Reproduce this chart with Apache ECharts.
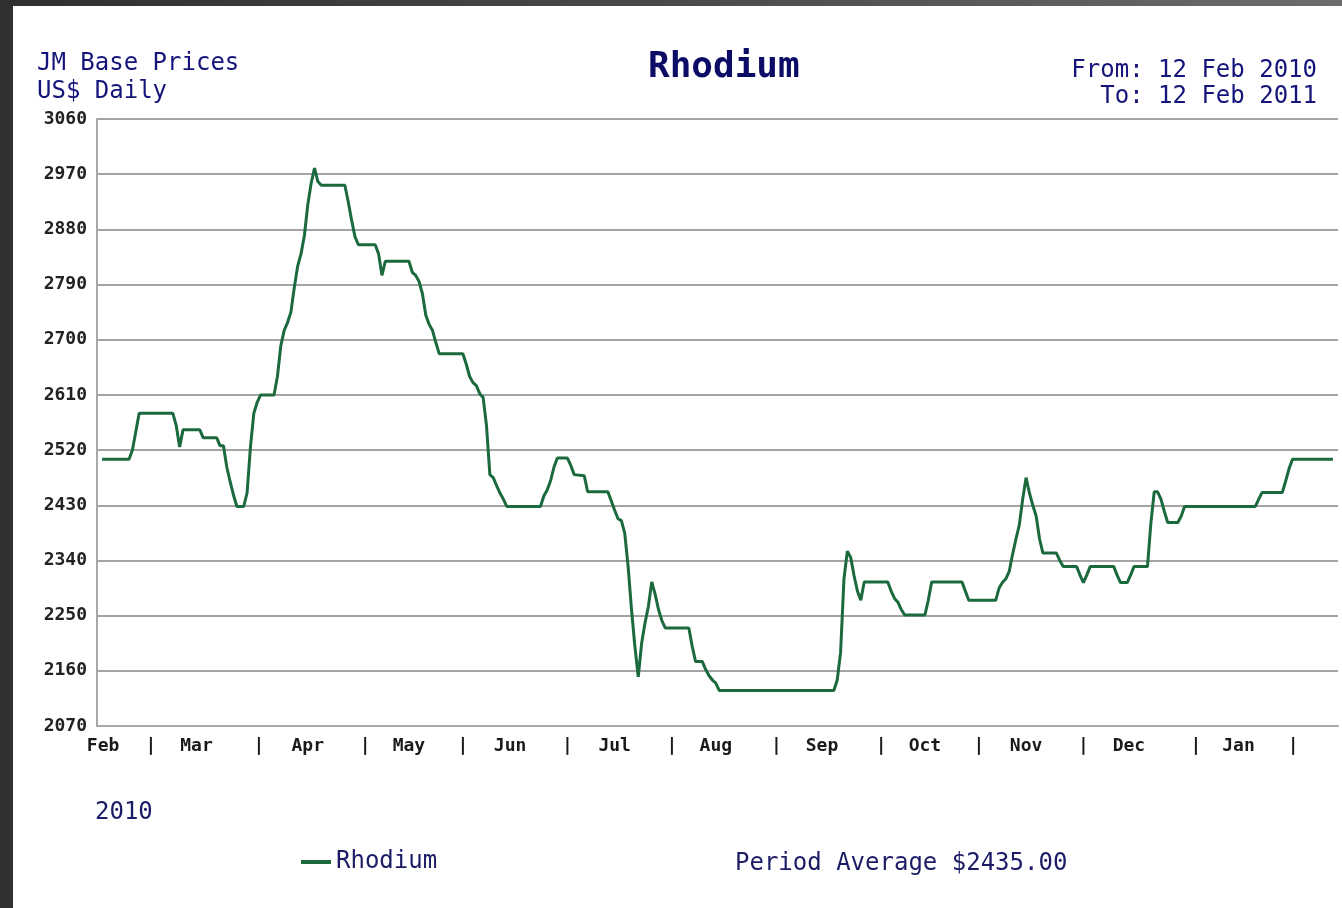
<!DOCTYPE html>
<html>
<head>
<meta charset="utf-8">
<title>Rhodium</title>
<script src="https://cdn.jsdelivr.net/npm/echarts@6/dist/echarts.min.js"></script>
<style>
  html, body { margin: 0; padding: 0; }
  body {
    width: 1342px; height: 908px; position: relative; overflow: hidden;
    background: linear-gradient(90deg, #2f2f2f 0%, #4a4a4a 50%, #6c6c6c 100%);
  }
  #panel { position: absolute; left: 13px; top: 6px; right: 0; bottom: 0; background: #fff; }
  #main { position: absolute; left: 0; top: 0; width: 1342px; height: 908px; }
</style>
</head>
<body>
<div id="panel"></div>
<div id="main"></div>
<script>
// days counted from 12 Feb 2010, price in US$
var priceDays = [
  0, 8, 9, 10, 11, 21, 22, 23, 24, 29, 30, 34, 35, 36, 37, 38, 39, 40, 42,
  43, 44, 45, 46, 47, 51, 52, 53, 54, 55, 56, 57, 58, 59, 60, 61, 62, 63, 64, 65,
  72, 73, 74, 75, 76, 81, 82, 83, 84, 91, 92, 93, 94, 95, 96, 97, 98, 99, 100,
  107, 108, 109, 110, 111, 112, 113, 114, 115, 116, 117, 118, 119, 120, 130,
  131, 132, 133, 134, 135, 138, 139, 140, 143, 144, 150, 151, 152, 153, 154,
  155, 156, 157, 158, 159, 160, 161, 162, 163, 164, 165, 166, 167, 174, 175,
  176, 178, 179, 180, 181, 182, 183, 217, 218, 219, 220, 221, 222, 223, 224,
  225, 226, 233, 234, 235, 236, 237, 238, 244, 245, 246, 255, 256, 257, 265,
  266, 267, 268, 269, 270, 271, 272, 273, 274, 275, 276, 277, 278, 279, 283,
  284, 285, 289, 290, 291, 292, 293, 300, 301, 302, 304, 305, 306, 310, 311,
  312, 313, 314, 315, 316, 319, 320, 321, 342, 343, 344, 350, 351, 352, 353, 365
];
var priceValues = [
  2505, 2505, 2520, 2550, 2580, 2580, 2560, 2525, 2553, 2553, 2540, 2540, 2527, 2527, 2492, 2468, 2446, 2428, 2428,
  2450, 2525, 2580, 2598, 2610, 2610, 2640, 2690, 2715, 2728, 2745, 2785, 2820, 2840, 2870, 2920, 2955, 2980, 2958, 2952,
  2952, 2925, 2895, 2868, 2855, 2855, 2840, 2805, 2828, 2828, 2810, 2805, 2795, 2775, 2740, 2725, 2715, 2695, 2677,
  2677, 2660, 2640, 2630, 2625, 2612, 2606, 2560, 2480, 2475, 2462, 2450, 2440, 2428, 2428,
  2445, 2455, 2470, 2492, 2507, 2507, 2495, 2480, 2478, 2452, 2452, 2437, 2422, 2408, 2405,
  2384, 2330, 2260, 2200, 2150, 2205, 2238, 2265, 2305, 2285, 2260, 2242, 2230, 2230, 2200,
  2175, 2175, 2162, 2152, 2145, 2140, 2128, 2128, 2145, 2190, 2310, 2355, 2345, 2315, 2290,
  2275, 2305, 2305, 2290, 2278, 2272, 2260, 2251, 2251, 2275, 2305, 2305, 2290, 2275, 2275,
  2295, 2304, 2310, 2322, 2350, 2375, 2398, 2440, 2475, 2450, 2430, 2412, 2375, 2352, 2352,
  2340, 2330, 2330, 2316, 2304, 2316, 2330, 2330, 2316, 2304, 2304, 2316, 2330, 2330, 2400,
  2452, 2452, 2440, 2420, 2402, 2402, 2412, 2428, 2428, 2440, 2451, 2451, 2470, 2490, 2505, 2505
];

// x-axis text: month names and the '|' separators, placed by day
var monthNames = ['Feb', 'Mar', 'Apr', 'May', 'Jun', 'Jul', 'Aug', 'Sep', 'Oct', 'Nov', 'Dec', 'Jan'];
var monthLabelDays = [0.3, 28, 61, 91, 121, 152, 182, 213.5, 244, 274, 304.5, 337];
var separatorDays = [14.5, 46.5, 78, 107, 138, 169, 200, 231, 260, 291, 324.4, 353.2];

var yMin = 2070, yMax = 3060, yStep = 90;

var mono = "'DejaVu Sans Mono', monospace";
var navy = '#14147a';
var green = '#1b6a3e';

var labelText = {};
monthLabelDays.forEach(function (d, i) { labelText[d] = monthNames[i]; });
separatorDays.forEach(function (d) { labelText[d] = '|'; });
var labelDays = monthLabelDays.concat(separatorDays).sort(function (a, b) { return a - b; });

var seriesData = priceDays.map(function (d, i) { return [d, priceValues[i]]; });

var chart = echarts.init(document.getElementById('main'), null, { renderer: 'canvas' });

var option = {
  animation: false,
  backgroundColor: 'transparent',
  grid: { left: 97, top: 119, right: 4, bottom: 182, containLabel: false, outerBoundsMode: 'none' },
  legend: {
    data: ['Rhodium'],
    left: 301,
    top: 850,
    padding: 0,
    icon: 'rect',
    itemWidth: 30,
    itemHeight: 4,
    textStyle: { fontFamily: mono, fontSize: 24, color: '#1c1c66', padding: [6, 0, 0, 0] }
  },
  xAxis: {
    type: 'value',
    min: -1.5,
    max: 366.5,
    splitLine: { show: false },
    axisTick: { show: false },
    axisLine: { show: true, onZero: false, lineStyle: { color: '#a8a8a8', width: 2 } },
    axisLabel: {
      customValues: labelDays,
      margin: 11,
      fontFamily: mono,
      fontSize: 18,
      fontWeight: 'bold',
      color: '#1a1a1a',
      formatter: function (v) { return labelText[v] || ''; }
    }
  },
  yAxis: {
    type: 'value',
    min: yMin,
    max: yMax,
    interval: yStep,
    axisLine: { show: true, onZero: false, lineStyle: { color: '#a8a8a8', width: 2 } },
    axisTick: { show: false },
    splitLine: { show: true, lineStyle: { color: '#a4a4a4', width: 2 } },
    axisLabel: {
      margin: 10,
      fontFamily: mono,
      fontSize: 18,
      fontWeight: 'bold',
      color: '#222',
      formatter: function (v) { return String(v); }
    }
  },
  graphic: [
    { type: 'text', left: 37, top: 52, style: { text: 'JM Base Prices', font: '24px ' + mono, fill: navy } },
    { type: 'text', left: 37, top: 80, style: { text: 'US$ Daily', font: '24px ' + mono, fill: navy } },
    { type: 'text', left: 648, top: 50, style: { text: 'Rhodium', font: 'bold 36px ' + mono, fill: '#0c0c66' } },
    { type: 'text', right: 25, top: 59, style: { text: 'From: 12 Feb 2010', font: '24px ' + mono, fill: navy } },
    { type: 'text', right: 25, top: 85, style: { text: 'To: 12 Feb 2011', font: '24px ' + mono, fill: navy } },
    { type: 'text', left: 95, top: 801, style: { text: '2010', font: '24px ' + mono, fill: '#1c1c66' } },
    { type: 'text', left: 735, top: 852, style: { text: 'Period Average $2435.00', font: '24px ' + mono, fill: '#1c1c66' } }
  ],
  series: [
    {
      name: 'Rhodium',
      type: 'line',
      data: seriesData,
      showSymbol: false,
      symbol: 'none',
      lineStyle: { color: green, width: 3 },
      itemStyle: { color: green }
    }
  ]
};

chart.setOption(option);
</script>
</body>
</html>
